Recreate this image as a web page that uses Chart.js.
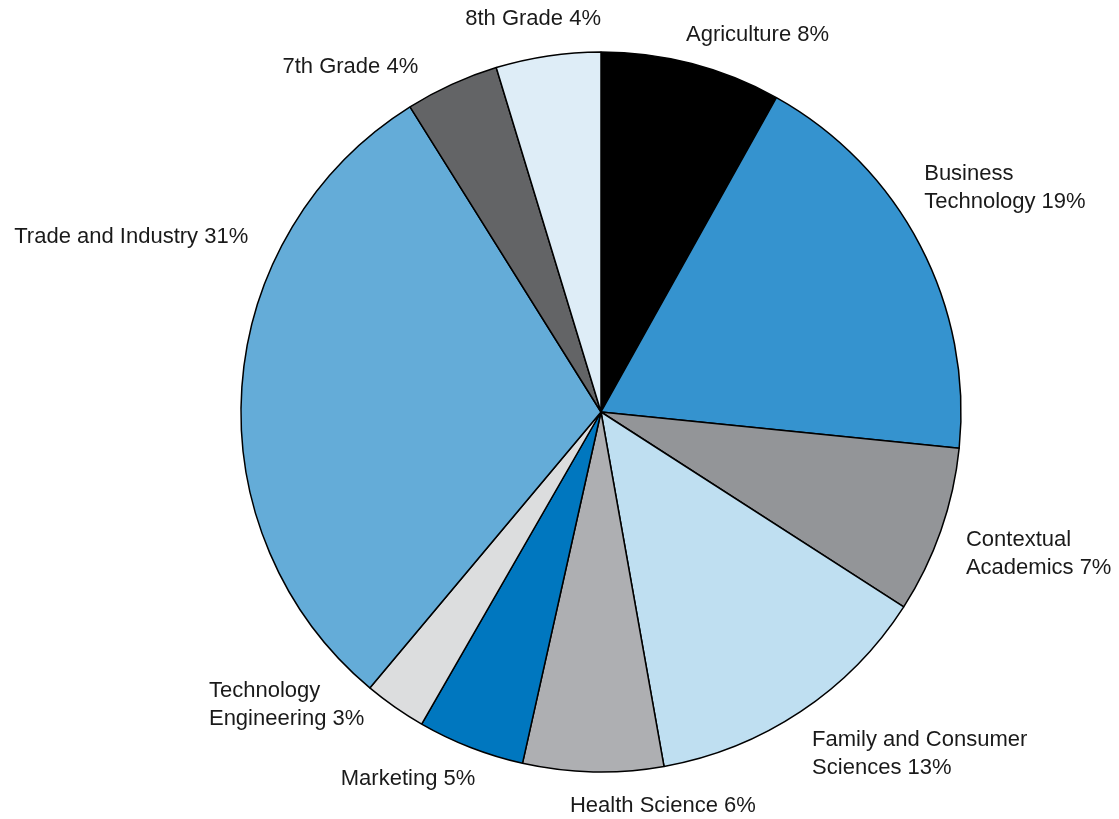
<!DOCTYPE html>
<html lang="en">
<head>
    <meta charset="UTF-8">
    <title>Programs pie</title>
    <script src="https://cdn.jsdelivr.net/npm/chart.js"></script>
    <style>
        html, body {
            margin: 0;
            padding: 0;
            background: #ffffff;
        }
        #wrap {
            width: 1119px;
            height: 819px;
            position: relative;
        }
    </style>
</head>
<body>
    <div id="wrap">
        <canvas id="pieChart"></canvas>
    </div>
    <script>
    // slices, clockwise from 12 o'clock
    const categories = ['Agriculture', 'Business Technology', 'Contextual Academics',
        'Family and Consumer Sciences', 'Health Science', 'Marketing',
        'Technology Engineering', 'Trade and Industry', '7th Grade', '8th Grade'];
    // slice sizes (percent of whole)
    const shares = [8.1, 18.5, 7.5, 13.1, 6.3, 4.8, 2.8, 30.0, 4.2, 4.7];
    // percentages as printed on the labels
    const printedPct = [8, 19, 7, 13, 6, 5, 3, 31, 4, 4];
    // where a label wraps (word index after which the line breaks, -1 = no wrap)
    const wrapAfter = [-1, 0, 0, 2, -1, -1, 0, -1, -1, -1];

    const sliceColors = ['#000000', '#3593cf', '#939598', '#bfdff1', '#aeafb2',
        '#0077bf', '#dcddde', '#64acd8', '#636466', '#deedf7'];

    // label placement: angle (deg, clockwise from top), distance (x radius), text alignment
    const labelPlace = [
        { a: 12.7, d: 1.074, align: 'left' },
        { a: 55.3, d: 1.092, align: 'left' },
        { a: 111.3, d: 1.088, align: 'left' },
        { a: 148.3, d: 1.116, align: 'left' },
        { a: 184.5, d: 1.098, align: 'left' },
        { a: 198.9, d: 1.078, align: 'right' },
        { a: 233.2, d: 1.36, align: 'left' },
        { a: 296.4, d: 1.094, align: 'right' },
        { a: 332.1, d: 1.085, align: 'right' },
        { a: 350.2, d: 1.108, align: 'center' }
    ];

    function labelLines(i) {
        const words = (categories[i] + ' ' + printedPct[i] + '%').split(' ');
        if (wrapAfter[i] < 0) return [words.join(' ')];
        return [words.slice(0, wrapAfter[i] + 1).join(' '), words.slice(wrapAfter[i] + 1).join(' ')];
    }

    const outsideLabels = {
        id: 'outsideLabels',
        afterDatasetsDraw(chart) {
            const arc = chart.getDatasetMeta(0).data[0];
            if (!arc) return;
            const cx = arc.x, cy = arc.y, r = arc.outerRadius;
            const ctx = chart.ctx;
            ctx.save();
            ctx.font = '22px "Liberation Sans", Arial, sans-serif';
            ctx.fillStyle = '#1a1a1a';
            ctx.textBaseline = 'middle';
            const lh = 28;
            labelPlace.forEach((p, i) => {
                const t = p.a * Math.PI / 180;
                const x = cx + Math.sin(t) * r * p.d;
                const y = cy - Math.cos(t) * r * p.d;
                const lines = labelLines(i);
                ctx.textAlign = p.align;
                const y0 = y - (lines.length - 1) * lh / 2;
                lines.forEach((ln, k) => ctx.fillText(ln, x, y0 + k * lh));
            });
            ctx.restore();
        }
    };

    new Chart(document.getElementById('pieChart'), {
        type: 'pie',
        data: {
            labels: categories,
            datasets: [{
                data: shares,
                backgroundColor: sliceColors,
                borderColor: '#000000',
                borderWidth: 1.5
            }]
        },
        options: {
            responsive: true,
            maintainAspectRatio: false,
            animation: false,
            radius: 360,
            layout: { padding: { left: 83, right: 0, top: 5, bottom: 0 } },
            plugins: {
                legend: { display: false },
                tooltip: { enabled: false }
            }
        },
        plugins: [outsideLabels]
    });
    </script>
</body>
</html>
